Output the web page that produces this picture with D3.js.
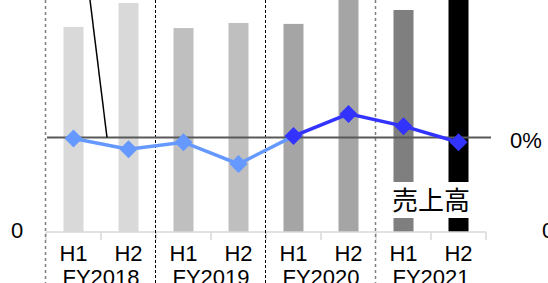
<!DOCTYPE html>
<html>
<head>
<meta charset="utf-8">
<script src="https://d3js.org/d3.v7.min.js"></script>
<style>
  body { margin: 0; background: #fff; }
  svg { display: block; }
</style>
</head>
<body>
<svg width="548" height="283"></svg>
<script>
// half-year categories, grouped by fiscal year
var halves = ["H1", "H2", "H1", "H2", "H1", "H2", "H1", "H2"];
var years = ["FY2018", "FY2019", "FY2020", "FY2021"];
// sales bars (left axis, index 0..100 shown, tops of some are cut off)
var sales = [88.4, 98.7, 87.9, 90.1, 89.7, 108, 95.7, 112];
// growth line (right axis, %)
var growth = [-0.2, -2.5, -1.0, -5.6, 0.3, 5.0, 2.4, -1.0];
var barColors = ["#d9d9d9", "#d9d9d9", "#bfbfbf", "#bfbfbf", "#a5a5a5", "#a5a5a5", "#7f7f7f", "#000000"];

var svg = d3.select("svg");
var font = "'Liberation Sans', Arial, sans-serif";
var fs = 22;

var x = d3.scaleBand().domain(d3.range(halves.length)).range([46, 486]).padding(0);
var xYear = d3.scaleBand().domain(years).range([46, 486]).padding(0);
var yL = d3.scaleLinear().domain([0, 100]).range([232, 0]);
var yR = d3.scaleLinear().domain([-20, 20]).range([232, 43]);
var barW = 20;

// bars
svg.append("g").selectAll("rect")
    .data(sales)
  .enter().append("rect")
    .attr("x", function(d, i) { return x(i) + (x.bandwidth() - barW) / 2; })
    .attr("width", barW)
    .attr("y", function(d) { return yL(d); })
    .attr("height", function(d) { return yL(0) - yL(d); })
    .attr("fill", function(d, i) { return barColors[i]; });

// category axis: line + boundary ticks
var ax = svg.append("g").attr("transform", "translate(0," + yL(0) + ")");
ax.append("line").attr("x1", 46).attr("x2", 486).attr("stroke", "#d9d9d9").attr("stroke-width", 1.5);
ax.selectAll("line.tk")
    .data(d3.range(halves.length + 1))
  .enter().append("line")
    .attr("class", "tk")
    .attr("x1", function(i) { return i < halves.length ? x(i) : x.range()[1]; })
    .attr("x2", function(i) { return i < halves.length ? x(i) : x.range()[1]; })
    .attr("y1", 0).attr("y2", 8)
    .attr("stroke", "#d9d9d9").attr("stroke-width", 1.5);

var labAxis = svg.append("g")
    .attr("transform", "translate(0," + yL(0) + ")")
    .call(d3.axisBottom(x).tickSize(0).tickPadding(13).tickFormat(function(i) { return halves[i]; }));
labAxis.select(".domain").remove();
labAxis.selectAll("text").attr("font-family", font).attr("font-size", fs).attr("fill", "#000");

var yrAxis = svg.append("g")
    .attr("transform", "translate(0," + 253 + ")")
    .call(d3.axisBottom(xYear).tickSize(0).tickPadding(16));
yrAxis.select(".domain").remove();
yrAxis.selectAll("text").attr("font-family", font).attr("font-size", fs).attr("fill", "#000");

// fiscal year separators
var seps = [
  {x: xYear("FY2018"), c: "#7f7f7f", w: 1.5, dash: "3,3"},
  {x: xYear("FY2019"), c: "#000", w: 1, dash: "3,2"},
  {x: xYear("FY2020"), c: "#000", w: 1, dash: "3,2"},
  {x: xYear("FY2021"), c: "#7f7f7f", w: 1.5, dash: "3,3"}
];
svg.append("g").selectAll("line")
    .data(seps)
  .enter().append("line")
    .attr("x1", function(d) { return d.x - 0.5; }).attr("x2", function(d) { return d.x - 0.5; })
    .attr("y1", 0).attr("y2", 283)
    .attr("stroke", function(d) { return d.c; })
    .attr("stroke-width", function(d) { return d.w; })
    .attr("stroke-dasharray", function(d) { return d.dash; });

// 0% reference line
svg.append("line")
    .attr("x1", 47).attr("x2", 491)
    .attr("y1", yR(0)).attr("y2", yR(0))
    .attr("stroke", "#595959").attr("stroke-width", 2);

// leader line of a callout
svg.append("line")
    .attr("x1", 90).attr("y1", 0).attr("x2", 107).attr("y2", yR(0))
    .attr("stroke", "#000").attr("stroke-width", 1.5);

// growth line: light blue up to FY2020 H1, dark blue after
var line = d3.line()
    .x(function(d) { return x(d.i) + x.bandwidth() / 2; })
    .y(function(d) { return yR(d.v); });
var pts = growth.map(function(v, i) { return {i: i, v: v}; });
svg.append("path").datum(pts.slice(0, 5))
    .attr("d", line).attr("fill", "none").attr("stroke", "#6699ff").attr("stroke-width", 3.5);
svg.append("path").datum(pts.slice(4))
    .attr("d", line).attr("fill", "none").attr("stroke", "#3333ff").attr("stroke-width", 3.5);

svg.append("g").selectAll("path")
    .data(pts)
  .enter().append("path")
    .attr("transform", function(d) { return "translate(" + (x(d.i) + x.bandwidth() / 2) + "," + yR(d.v) + ")"; })
    .attr("d", "M0,-9L9,0L0,9L-9,0Z")
    .attr("fill", function(d) { return d.i < 4 ? "#6699ff" : "#3333ff"; });

// series label with white backing
svg.append("rect").attr("x", 386).attr("y", 182).attr("width", 92).attr("height", 36).attr("fill", "#fff");
svg.append("text")
    .attr("x", (x(6) + x(7) + x.bandwidth()) / 2).attr("y", 210)
    .attr("text-anchor", "middle")
    .attr("font-family", "'Noto Sans CJK JP', sans-serif").attr("font-size", 26)
    .text("売上高");

// axis value labels
svg.append("text").attr("x", 17).attr("y", 238).attr("text-anchor", "middle")
    .attr("font-family", font).attr("font-size", fs).text("0");
svg.append("text").attr("x", 510).attr("y", yR(0) + 10.5)
    .attr("font-family", font).attr("font-size", fs).text("0%");
svg.append("text").attr("x", 542).attr("y", 238)
    .attr("font-family", font).attr("font-size", fs).text("0");
</script>
</body>
</html>
